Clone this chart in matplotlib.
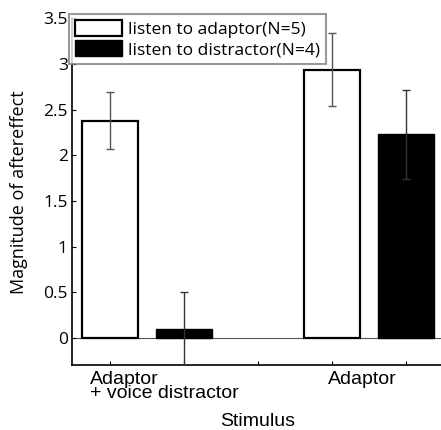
import numpy as np
import matplotlib
matplotlib.use("Agg")
import matplotlib.pyplot as plt

# bar positions (group 1 at 1,2 ; group 2 at 4,5)
pos_adaptor = [1, 4]
pos_distractor = [2, 5]
listen_adaptor = [2.38, 2.94]
listen_adaptor_err = [0.31, 0.40]
listen_distractor = [0.10, 2.23]
listen_distractor_err = [0.40, 0.49]
group_labels = ["Adaptor\n+ voice distractor", "Adaptor"]
legend_labels = ["listen to adaptor(N=5)", "listen to distractor(N=4)"]
yticks = [0, 0.5, 1, 1.5, 2, 2.5, 3, 3.5]

fig = plt.figure(figsize=(4.41, 4.30), dpi=100)
ax = fig.add_axes([0.163, 0.151, 0.837, 0.806])

w = 0.75
b1 = ax.bar(pos_adaptor, listen_adaptor, w, color="white", edgecolor="black", linewidth=1.6, zorder=2)
b2 = ax.bar(pos_distractor, listen_distractor, w, color="black", edgecolor="black", linewidth=1, zorder=2)
ax.errorbar(pos_adaptor, listen_adaptor, yerr=listen_adaptor_err, fmt="none",
            ecolor="#555555", elinewidth=1, capsize=3, capthick=1, zorder=3)
ax.errorbar(pos_distractor, listen_distractor, yerr=listen_distractor_err, fmt="none",
            ecolor="#333333", elinewidth=1, capsize=3, capthick=1, zorder=3)
ax.axhline(0, color="#555555", lw=0.8, zorder=1)

ax.set_xlim(0.486, 5.47)
ax.set_ylim(-0.3, 3.5)
ax.set_yticks(yticks)
ax.set_yticklabels(["0", "0.5", "1", "1.5", "2", "2.5", "3", "3.5"],
                   fontfamily="Open Sans", fontsize=12.5)
ax.set_xticks([1, 2, 3, 4, 5])
ax.set_xticklabels([])
ax.tick_params(axis="both", direction="in", length=3, width=0.8, pad=3)
ax.spines["top"].set_visible(False)
ax.spines["right"].set_visible(False)
ax.spines["left"].set_linewidth(1.2)
ax.spines["bottom"].set_linewidth(1.2)

ax.set_ylabel("Magnitude of aftereffect", fontfamily="Open Sans", fontsize=13, labelpad=11)

ax.text(0.73, -0.37, group_labels[0], fontfamily="Liberation Sans", fontsize=14,
        ha="left", va="top", linespacing=0.75)
ax.text(3.94, -0.37, group_labels[1], fontfamily="Liberation Sans", fontsize=14,
        ha="left", va="top")
ax.text(3.0, -0.83, "Stimulus", fontfamily="Liberation Sans", fontsize=14,
        ha="center", va="top")

leg = ax.legend([b1, b2], legend_labels, loc="upper left",
                bbox_to_anchor=(69 / 441, 1 - 14 / 430), bbox_transform=fig.transFigure,
                prop={"family": "Open Sans", "size": 12.5}, fancybox=False,
                handlelength=2.7, handleheight=1.0, borderpad=0.35, labelspacing=0.15,
                handletextpad=0.35, borderaxespad=0)
leg.get_frame().set_edgecolor("#808080")
leg.get_frame().set_linewidth(1.5)

fig.savefig("out.png", dpi=100)
